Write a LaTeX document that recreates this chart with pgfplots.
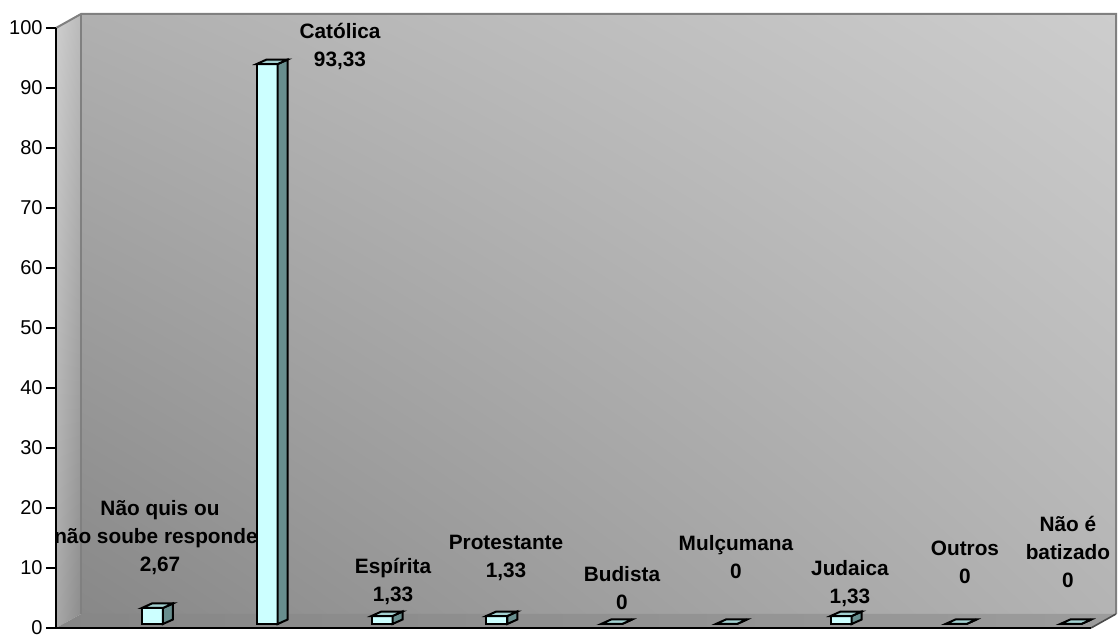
\documentclass[border=0pt]{standalone}
\usepackage{fontspec}
\setmainfont{Liberation Sans}
\usepackage{pgfplots}
\pgfplotsset{compat=1.18}
\usepackage{pgfplotstable}
\usetikzlibrary{shadings}

\definecolor{barfront}{HTML}{CCFFFF}
\definecolor{barside}{HTML}{688E8E}
\definecolor{bartop}{HTML}{A3D1D1}
\definecolor{walledge}{HTML}{808080}
\definecolor{wallUL}{RGB}{176,176,176}
\definecolor{wallUR}{RGB}{205,205,205}
\definecolor{wallLL}{RGB}{136,136,136}
\definecolor{wallLR}{RGB}{180,180,180}
\definecolor{sideUL}{RGB}{206,206,206}
\definecolor{sideUR}{RGB}{186,186,186}
\definecolor{sideLL}{RGB}{168,168,168}
\definecolor{sideLR}{RGB}{140,140,140}
\definecolor{floorL}{RGB}{134,134,134}
\definecolor{floorR}{RGB}{156,156,156}

% a mark that draws nothing: the prism is drawn by the scatter code
\pgfdeclareplotmark{void}{}

\pgfplotstableread{
idx v
0 2.67
1 93.33
2 1.33
3 1.33
4 0
5 0
6 1.33
7 0
8 0
}\religiao

\newcommand\labfont{\fontsize{10.4}{14}\selectfont\bfseries}

\begin{document}
\begin{tikzpicture}
\begin{axis}[
  at={(0,0)}, anchor=south west,
  scale only axis, width=517.5pt, height=300pt,
  xmin=-0.84, xmax=8.176, ymin=0, ymax=100,
  clip=false, axis on top,
  axis x line*=bottom, axis y line*=left,
  axis line style={-, black, line width=0.9pt},
  xtick=\empty,
  ytick={0,10,...,100},
  tick align=outside, major tick length=5pt,
  ytick style={black, line width=0.8pt},
  yticklabel style={font=\fontsize{10}{12}\selectfont, inner sep=1.5pt},
  /pgf/number format/assume math mode=true,
]
% box of the 3D chart: front plane and back plane
\coordinate (F0) at (rel axis cs:0,0);
\coordinate (F1) at (rel axis cs:1,0);
\coordinate (F2) at (rel axis cs:0,1);
\coordinate (F3) at (rel axis cs:1,1);
\coordinate (B0) at ([shift={(12.5pt,7pt)}]F0);
\coordinate (B1) at ([shift={(12.5pt,7pt)}]F1);
\coordinate (B2) at ([shift={(12.5pt,7pt)}]F2);
\coordinate (B3) at ([shift={(12.5pt,7pt)}]F3);

% back wall
\shade[upper left=wallUL, upper right=wallUR,
       lower left=wallLL, lower right=wallLR]
  (B0) rectangle (B3);
% side wall
\shade[upper left=sideUL, upper right=sideUR,
       lower left=sideLL, lower right=sideLR]
  (F0) -- (B0) -- (B2) -- (F2) -- cycle;
% floor
\shade[left color=floorL, right color=floorR]
  (F0) -- (F1) -- (B1) -- (B0) -- cycle;
% wall edges
\draw[walledge, line width=1pt] (F2) -- (B2) -- (B3) -- (B1);
\draw[walledge, line width=1pt] (B0) -- (B2);
\draw[black!70, line width=0.8pt] (F1) -- (B1);

% data labels
\begin{scope}[every node/.style={font=\labfont, align=center, inner sep=0pt}]
\node at (axis cs:0.066,15.0)  {Não quis ou\\não soube responder\\2,67};
\node at (axis cs:1.634,97.0)  {Católica\\93,33};
\node at (axis cs:2.096,7.83)  {Espírita\\1,33};
\node at (axis cs:3.080,11.75) {Protestante\\1,33};
\node at (axis cs:4.090,6.58)  {Budista\\0};
\node at (axis cs:5.083,11.75) {Mulçumana\\0};
\node at (axis cs:6.076,7.33)  {Judaica\\1,33};
\node at (axis cs:7.078,11.0)  {Outros\\0};
\node at (axis cs:7.975,12.67) {Não é\\batizado\\0};
\end{scope}

% 3D columns: front face, side face and top face
\addplot[scatter, only marks, mark=void, point meta=y,
  scatter/@pre marker code/.code={%
    \pgfmathfloattofixed{\pgfplotspointmeta}\let\barval\pgfmathresult
    \pgfmathsetmacro\negh{-\barval}%
    \coordinate (hb) at (axis direction cs:0,\negh);
    \filldraw[fill=barfront, draw=black, line width=1pt]
      ([shift={(-5.25pt,2pt)}]hb) rectangle (5.25pt,2pt);
    \filldraw[fill=barside, draw=black, line width=1pt]
      ([shift={(5.25pt,2pt)}]hb) -- ([shift={(10.25pt,4.25pt)}]hb)
      -- (10.25pt,4.25pt) -- (5.25pt,2pt) -- cycle;
    \filldraw[fill=bartop, draw=black, line width=1pt]
      (-5.25pt,2pt) -- (-0.25pt,4.25pt) -- (10.25pt,4.25pt)
      -- (5.25pt,2pt) -- cycle;
  },
  scatter/@post marker code/.code={},
] table[x=idx, y=v] {\religiao};
\end{axis}
\pgfresetboundingbox
\path[use as bounding box] (-28pt,-3.5pt) rectangle (531pt,314pt);
\end{tikzpicture}
\end{document}
